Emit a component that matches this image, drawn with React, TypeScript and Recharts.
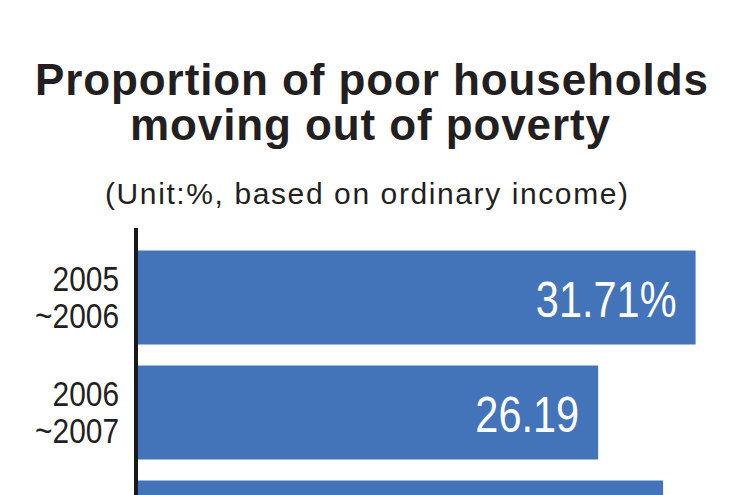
import { BarChart, Bar, XAxis, YAxis, LabelList } from 'recharts';

const periodStart = ['2005', '2006', '2007'];
const periodEnd = ['2006', '2007', '2008'];
const exitRate = [31.71, 26.19, 29.87];

const titleLines = ['Proportion of poor households', 'moving out of poverty'];
const subtitle = '(Unit:%, based on ordinary income)';

const chartData = periodStart.map((start, i) => ({
  period: `${start}~${periodEnd[i]}`,
  value: exitRate[i],
}));

const INK = '#231f20';
const BLUE = '#4374b9';
const SANS = "'Liberation Sans', Arial, sans-serif";

// no narrow face installed, so squeeze the regular one
const NarrowText = ({ x, y, size, fill, children }: any) => (
  <g transform={`translate(${x},${y}) scale(0.83,1)`}>
    <text x={0} y={0} textAnchor="end" fontFamily={SANS} fontSize={size} fill={fill}>
      {children}
    </text>
  </g>
);

const PeriodTick = (props: any) => {
  const { x, y, payload } = props;
  const [from, to] = String(payload.value).split('~');
  return (
    <g>
      <NarrowText x={x} y={y - 7} size={36} fill={INK}>{from}</NarrowText>
      <NarrowText x={x} y={y + 30} size={36} fill={INK}>{'~' + to}</NarrowText>
    </g>
  );
};

const ValueLabel = (props: any) => {
  const { x, y, width, height, value, index } = props;
  const text = Number(value).toFixed(2) + (index === 0 ? '%' : '');
  return (
    <NarrowText x={x + width - 19} y={y + height / 2 + 19} size={50} fill="#ffffff">
      {text}
    </NarrowText>
  );
};

export default function App() {
  return (
    <div
      style={{
        position: 'absolute',
        left: 0,
        top: 0,
        width: 750,
        height: 495,
        overflow: 'hidden',
        background: '#ffffff',
      }}
    >
      <BarChart
        width={750}
        height={585}
        data={chartData}
        layout="vertical"
        margin={{ top: 228, right: 14, bottom: 0, left: 0 }}
        barCategoryGap={10.5}
      >
        <XAxis type="number" domain={[0, 34]} hide />
        <Bar dataKey="value" fill={BLUE} isAnimationActive={false}>
          <LabelList dataKey="value" content={<ValueLabel />} />
        </Bar>
        <YAxis
          type="category"
          dataKey="period"
          width={136}
          padding={{ top: 12, bottom: 0 }}
          axisLine={{ stroke: '#1a1a1a', strokeWidth: 4 }}
          tickLine={false}
          tickSize={0}
          tickMargin={17}
          tick={<PeriodTick />}
        />
      </BarChart>
      <svg
        width={750}
        height={225}
        style={{ position: 'absolute', left: 0, top: 0 }}
      >
        <text
          x={35}
          y={95}
          fontFamily={SANS}
          fontWeight={700}
          fontSize={44}
          fill={INK}
          textLength={673}
          lengthAdjust="spacing"
        >
          {titleLines[0]}
        </text>
        <text
          x={130}
          y={140}
          fontFamily={SANS}
          fontWeight={700}
          fontSize={44}
          fill={INK}
          textLength={480}
          lengthAdjust="spacing"
        >
          {titleLines[1]}
        </text>
        <text
          x={105}
          y={204}
          fontFamily={SANS}
          fontSize={30}
          fill={INK}
          textLength={523}
          lengthAdjust="spacing"
        >
          {subtitle}
        </text>
      </svg>
    </div>
  );
}
